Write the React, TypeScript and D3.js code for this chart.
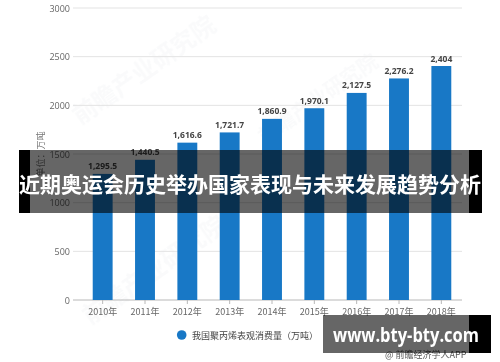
import React from "react";
import * as d3 from "d3";

const years = ["2010年", "2011年", "2012年", "2013年", "2014年", "2015年", "2016年", "2017年", "2018年"];
const values = [1295.5, 1440.5, 1616.6, 1721.7, 1860.9, 1970.1, 2127.5, 2276.2, 2404];
const valueLabels = ["1,295.5", "1,440.5", "1,616.6", "1,721.7", "1,860.9", "1,970.1", "2,127.5", "2,276.2", "2,404"];
const yTicks = [0, 500, 1000, 1500, 2000, 2500, 3000];
const seriesName = "我国聚丙烯表观消费量（万吨）";
const yAxisTitle = "单位：万吨";
const bannerTitle = "近期奥运会历史举办国家表现与未来发展趋势分析";
const siteText = "www.bty-bty.com";
const sourceText = "@ 前瞻经济学人APP";

const W = 500;
const H = 362;
const BLUE = "#1878c6";
const CJK = "'Noto Sans CJK SC', 'Noto Sans', sans-serif";
const NUM = "'Open Sans', 'Noto Sans', sans-serif";

export default function App() {
  const x = d3.scaleBand<string>().domain(years).range([81.5, 462.5]).paddingInner(0.53).paddingOuter(0.265);
  const y = d3.scaleLinear().domain([0, 3000]).range([300, 8]);
  const bw = x.bandwidth();

  return (
    <svg width={W} height={H} style={{ position: "absolute", left: 0, top: 0, background: "#fff" }}>
      <rect x={0} y={0} width={W} height={H} fill="#fff" />
      {/* faint watermarks */}
      <g opacity={0.035} fill="#5a6f86" fontFamily={CJK} fontWeight="bold">
        <text x={0} y={0} fontSize={24} transform="translate(80,125) rotate(-35)">前瞻产业研究院</text>
        <text x={0} y={0} fontSize={24} transform="translate(90,325) rotate(-35)">前瞻产业研究院</text>
        <text x={0} y={0} fontSize={20} transform="translate(265,145) rotate(-35)">前瞻产业研究院</text>
      </g>
      {/* grid */}
      {yTicks.map((t) => (
        <line key={t} x1={73} x2={462} y1={y(t)} y2={y(t)} stroke={t === 0 ? "#b8b8b8" : "#e3e3e3"} strokeWidth={1} />
      ))}
      {yTicks.map((t) => (
        <text key={"l" + t} x={70} y={y(t)} textAnchor="end" dominantBaseline="central" fontSize={9} fill="#666" fontFamily={NUM}>
          {t}
        </text>
      ))}
      <text transform={`translate(40,154) rotate(-90)`} textAnchor="middle" dominantBaseline="central" fontSize={9} fill="#777" fontFamily={CJK}>
        {yAxisTitle}
      </text>
      {/* bars */}
      {years.map((yr, i) => (
        <rect key={yr} x={x(yr)} y={y(values[i])} width={bw} height={y(0) - y(values[i])} fill={BLUE} />
      ))}
      {years.map((yr, i) => (
        <text key={"v" + yr} x={(x(yr) as number) + bw / 2} y={y(values[i]) - 8} textAnchor="middle" dominantBaseline="central" fontSize={8.5} fontWeight="bold" fill="#444" fontFamily={NUM}>
          {valueLabels[i]}
        </text>
      ))}
      {years.map((yr) => (
        <line key={"t" + yr} x1={(x(yr) as number) + bw / 2} x2={(x(yr) as number) + bw / 2} y1={300} y2={304} stroke="#b8b8b8" />
      ))}
      {years.map((yr) => (
        <text key={"x" + yr} x={(x(yr) as number) + bw / 2} y={311} textAnchor="middle" dominantBaseline="central" fontSize={9} fill="#666" fontFamily={CJK}>
          {yr}
        </text>
      ))}
      {/* legend */}
      <circle cx={181.7} cy={335} r={4.8} fill={BLUE} />
      <text x={192} y={335} dominantBaseline="central" fontSize={9} fill="#444" fontFamily={CJK}>
        {seriesName}
      </text>
      {/* source */}
      <text x={385} y={354} dominantBaseline="central" fontSize={9} fill="#555" fontFamily={CJK}>
        {sourceText}
      </text>
      {/* banner overlay */}
      <rect x={19} y={150} width={463} height={63} fill="#000" opacity={0.6} />
      <rect x={19} y={150} width={11} height={63} fill="#000" />
      <rect x={469} y={150} width={13} height={63} fill="#000" />
      <text x={19} y={183} textLength={462} lengthAdjust="spacingAndGlyphs" dominantBaseline="central" fontSize={21} fontWeight="bold" fill="#fff" fontFamily={CJK}>
        {bannerTitle}
      </text>
      {/* site overlay */}
      <rect x={323} y={315} width={168} height={38} fill="#000" opacity={0.6} />
      <rect x={469} y={315} width={22} height={38} fill="#000" />
      <text x={333} y={335} textLength={146} lengthAdjust="spacingAndGlyphs" dominantBaseline="central" fontSize={19} fontWeight="bold" fill="#fff" fontFamily={NUM}>
        {siteText}
      </text>
    </svg>
  );
}
